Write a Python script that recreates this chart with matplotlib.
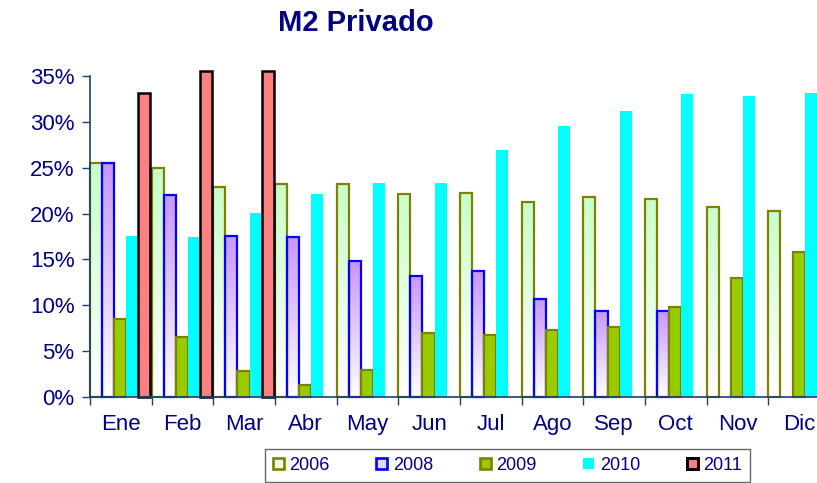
import numpy as np
import matplotlib
matplotlib.use("Agg")
import matplotlib.pyplot as plt
from matplotlib.colors import LinearSegmentedColormap
from matplotlib.patches import Patch

plt.rcParams['font.family'] = ['Liberation Sans', 'DejaVu Sans']

title = "M2 Privado"
months = ["Ene", "Feb", "Mar", "Abr", "May", "Jun", "Jul", "Ago", "Sep", "Oct", "Nov", "Dic"]
series_names = ["2006", "2008", "2009", "2010", "2011"]
nan = np.nan
v2006 = [25.5, 25.0, 22.9, 23.2, 23.2, 22.1, 22.3, 21.3, 21.85, 21.6, 20.7, 20.25]
v2008 = [25.5, 22.0, 17.6, 17.5, 14.8, 13.2, 13.7, 10.7, 9.4, 9.4, nan, nan]
v2009 = [8.5, 6.5, 2.8, 1.3, 3.0, 7.0, 6.8, 7.3, 7.6, 9.85, 13.0, 15.8]
v2010 = [17.6, 17.4, 20.1, 22.1, 23.3, 23.3, 26.9, 29.6, 31.2, 33.0, 32.8, 33.2]
v2011 = [33.1, 35.5, 35.5, nan, nan, nan, nan, nan, nan, nan, nan, nan]
yticks = [0, 5, 10, 15, 20, 25, 30, 35]
ytick_labels = ["0%", "5%", "10%", "15%", "20%", "25%", "30%", "35%"]

navy = "#000080"
axis_col = "#1f3f73"

styles = [
    dict(face="none", edge="#808000", grad="#c8ffc8", lw=1.6),
    dict(face="none", edge="#0000ff", grad="#c896ff", lw=1.6),
    dict(face="#99cc00", edge="#808000", grad=None, lw=1.6),
    dict(face="#00ffff", edge="none", grad=None, lw=0),
    dict(face="#ff8080", edge="#000000", grad=None, lw=1.8),
]

fig = plt.figure(figsize=(8.17, 4.83), dpi=100)
ax = fig.add_axes([0.110, 0.178, 0.906, 0.6646])

x = np.arange(len(months))
w = 0.196
all_vals = [v2006, v2008, v2009, v2010, v2011]
for j, (vals, st) in enumerate(zip(all_vals, styles)):
    pos = x - 0.5 + (j + 0.5) * w
    bars = ax.bar(pos, vals, width=w, facecolor=st["face"], edgecolor=st["edge"],
                  linewidth=st["lw"], zorder=3, clip_on=False)
    if st["grad"] is not None:
        cmap = LinearSegmentedColormap.from_list("g%d" % j, ["white", st["grad"]])
        grad = np.linspace(0, 1, 256).reshape(-1, 1)
        for b in bars:
            h = b.get_height()
            if np.isnan(h):
                continue
            ax.imshow(grad, extent=[b.get_x(), b.get_x() + b.get_width(), 0, h],
                      origin="lower", cmap=cmap, aspect="auto", zorder=2)

ax.set_xlim(-0.5, len(months) - 0.5)
ax.set_ylim(0, 35)
ax.set_aspect("auto")

ax.set_yticks(yticks)
ax.set_yticklabels(ytick_labels)
ax.set_xticks(np.arange(len(months) + 1) - 0.5)
ax.set_xticklabels([])
ax.set_xticks(x, minor=True)
ax.set_xticklabels(months, minor=True)

ax.tick_params(axis="y", which="major", direction="out", length=6, width=1,
               color=axis_col, labelsize=16, labelcolor=navy, pad=5)
ax.tick_params(axis="x", which="major", direction="out", length=6, width=1, color=axis_col)
ax.tick_params(axis="x", which="minor", length=0, labelsize=16, labelcolor=navy, pad=12)

for s in ["top", "right"]:
    ax.spines[s].set_visible(False)
for s in ["left", "bottom"]:
    ax.spines[s].set_color(axis_col)
    ax.spines[s].set_linewidth(1.2)
    ax.spines[s].set_zorder(4)

fig.text(0.436, 0.952, title, ha="center", va="center", fontsize=21,
         fontweight="bold", color=navy)

handles = []
for name, st in zip(series_names, styles):
    fc = st["grad"] if st["grad"] is not None else st["face"]
    if st["grad"] is not None:
        fc = "#eaffea" if name == "2006" else "#e6d9ff"
    handles.append(Patch(facecolor=fc, edgecolor=st["edge"], linewidth=max(st["lw"], 0) * 1.2,
                         label=name))

leg = fig.legend(handles=handles, loc="upper center", bbox_to_anchor=(0.621, 0.0704),
                 ncol=5, fontsize=13, frameon=True, fancybox=False, edgecolor="#404040",
                 handlelength=0.6, handleheight=0.6, handletextpad=0.3,
                 columnspacing=2.6, borderpad=0.45, borderaxespad=0)
leg.get_frame().set_linewidth(1.0)
for t in leg.get_texts():
    t.set_color(navy)

fig.savefig("out.png", dpi=100)
